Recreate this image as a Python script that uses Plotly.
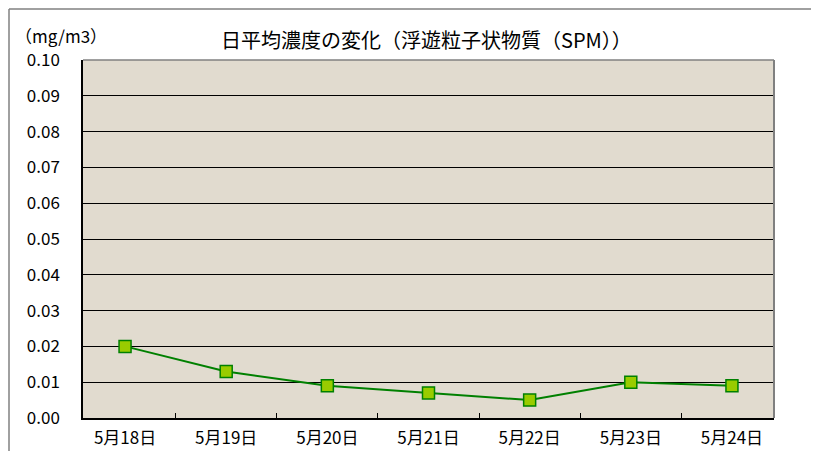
import plotly.graph_objects as go

categories = ["5月18日", "5月19日", "5月20日", "5月21日", "5月22日", "5月23日", "5月24日"]
values = [0.020, 0.013, 0.009, 0.007, 0.005, 0.010, 0.009]
title_text = "日平均濃度の変化（浮遊粒子状物質（SPM））"
unit_text = "（mg/m3）"

# page has an 8px body margin; work in page pixels and convert
OFF = 8
W, H = 819 - OFF, 459 - 2 * OFF
L, R, T, B = 83, 774, 60, 418  # plot area in page pixels
pw, ph = R - L, B - T

def px(x):
    return (x - L) / pw

def py(y):
    return (B - y) / ph

font = "Noto Sans CJK JP, sans-serif"

fig = go.Figure()
fig.add_trace(go.Scatter(
    x=categories, y=values, mode="lines+markers",
    line=dict(color="#008000", width=2),
    marker=dict(symbol="square", size=12, color="#99CC00",
                line=dict(color="#008000", width=1.5)),
    showlegend=False,
))

fig.update_layout(
    width=W, height=H,
    margin=dict(l=L - OFF, r=W + OFF - R, t=T - OFF, b=H + OFF - B),
    paper_bgcolor="white",
    plot_bgcolor="#E1DBCF",
    font=dict(family=font, color="black", size=16),
    xaxis=dict(type="category", tickson="boundaries", ticks="inside", ticklen=5,
               tickcolor="black", showgrid=False, showline=True, linecolor="black",
               linewidth=1.5, ticklabelstandoff=4, tickfont=dict(size=17),
               automargin=False),
    yaxis=dict(range=[0, 0.1], dtick=0.01, tickformat=".2f", showgrid=True,
               gridcolor="black", gridwidth=1, showline=True, linecolor="black",
               linewidth=1.5, zeroline=False, ticks="", ticklabelstandoff=18,
               tickfont=dict(size=17), automargin=False),
    shapes=[
        dict(type="line", xref="paper", yref="paper", x0=0, x1=1, y0=1, y1=1,
             line=dict(color="#808080", width=1.5)),
        dict(type="line", xref="paper", yref="paper", x0=1, x1=1, y0=0, y1=1,
             line=dict(color="#808080", width=2)),
        dict(type="line", xref="paper", yref="paper", x0=px(9), x1=px(9),
             y0=py(480), y1=py(9), line=dict(color="#808080", width=1.5)),
        dict(type="line", xref="paper", yref="paper", x0=px(816), x1=px(816),
             y0=py(480), y1=py(9), line=dict(color="#808080", width=1.5)),
        dict(type="line", xref="paper", yref="paper", x0=px(9), x1=px(816),
             y0=py(9), y1=py(9), line=dict(color="#808080", width=1.5)),
    ],
    annotations=[
        dict(text=title_text, xref="paper", yref="paper", x=px(426), y=py(40),
             showarrow=False, font=dict(size=20), xanchor="center", yanchor="middle"),
        dict(text=unit_text, xref="paper", yref="paper", x=px(61), y=py(35),
             showarrow=False, font=dict(size=17), xanchor="center", yanchor="middle"),
    ],
)

fig.write_html("out.html")
